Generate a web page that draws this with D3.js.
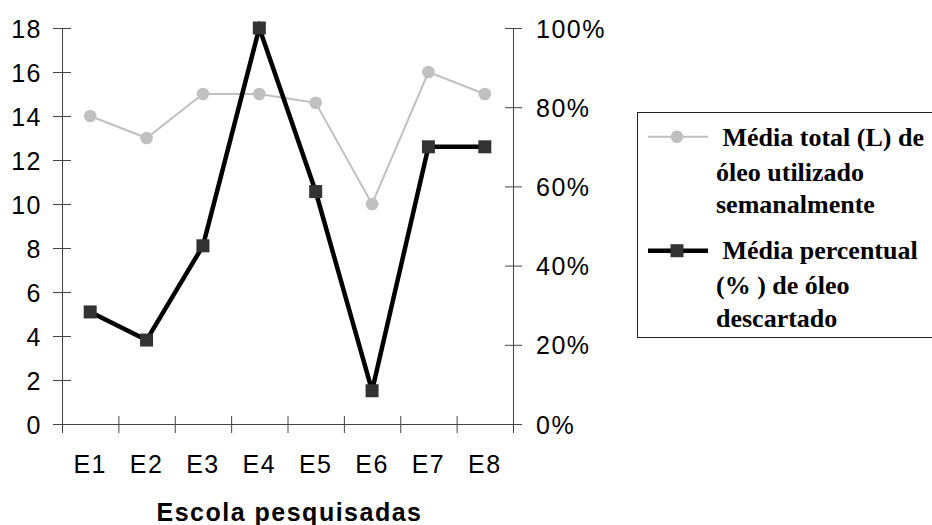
<!DOCTYPE html>
<html>
<head>
<meta charset="utf-8">
<script src="https://cdn.jsdelivr.net/npm/d3@7"></script>
<style>
  html, body { margin: 0; padding: 0; background: #fff; }
  svg { display: block; }
</style>
</head>
<body>
<svg id="chart" width="932" height="525"></svg>
<script>
const categories = ["E1", "E2", "E3", "E4", "E5", "E6", "E7", "E8"];
const volumeL = [14, 13, 15, 15, 14.6, 10, 16, 15];
const percentDiscarded = [28.3, 21.2, 45, 100, 58.7, 8.4, 70, 70];
const leftTicks = [0, 2, 4, 6, 8, 10, 12, 14, 16, 18];
const rightTicks = [0, 20, 40, 60, 80, 100];
const seriesNames = [
  ["\u00a0Média total (L) de", "óleo utilizado", "semanalmente"],
  ["Média percentual", "(% ) de óleo", "descartado"]
];
const xTitle = "Escola pesquisadas";

const svg = d3.select("#chart");
const pLeft = 62, pRight = 513, pTop = 28, pBottom = 424;
const axisColor = "#444";
const sans = "'Liberation Sans', Arial, sans-serif";
const serif = "'Liberation Serif', 'Times New Roman', serif";

const x = d3.scaleBand().domain(categories).range([pLeft, pRight]).padding(0);
const xb = d3.scaleLinear().domain([0, categories.length]).range([pLeft, pRight]);
const yL = d3.scaleLinear().domain([0, 18]).range([pBottom, pTop]);
const yR = d3.scaleLinear().domain([0, 100]).range([pBottom, pTop]);
const cx = d => x(d) + x.bandwidth() / 2;

// Left axis
const gL = svg.append("g").attr("transform", `translate(${pLeft},0)`)
  .call(d3.axisLeft(yL).tickValues(leftTicks).tickSize(9).tickPadding(11).tickFormat(d3.format("d")));
gL.selectAll(".tick line").attr("x1", -9).attr("x2", 9);
// Right axis
const gR = svg.append("g").attr("transform", `translate(${pRight},0)`)
  .call(d3.axisRight(yR).tickValues(rightTicks).tickSize(9).tickPadding(14).tickFormat(d => d + "%"));
gR.selectAll(".tick line").attr("x1", -8).attr("x2", 9);
// X axis ticks at band boundaries
const gX = svg.append("g").attr("transform", `translate(0,${pBottom})`)
  .call(d3.axisBottom(xb).tickValues(d3.range(categories.length + 1)).tickSize(9).tickFormat(""));
gX.selectAll(".tick line").attr("y1", -8).attr("y2", 9);
// X labels
const gXL = svg.append("g").attr("transform", `translate(0,${pBottom})`)
  .call(d3.axisBottom(x).tickSize(0).tickPadding(31));
gXL.select(".domain").remove();

[gL, gR, gX].forEach(g => {
  g.select(".domain").attr("stroke", axisColor).attr("stroke-width", 1);
  g.selectAll(".tick line").attr("stroke", axisColor).attr("stroke-width", 1);
});
[gL, gR, gXL].forEach(g => {
  g.selectAll("text").attr("font-family", sans).attr("font-size", 25).attr("fill", "#000")
    .attr("letter-spacing", "1.5px");
});
gL.selectAll(".tick text").attr("dy", "0.36em");
gR.selectAll(".tick text").attr("dy", "0.36em");

// Series 1: gray line with circles
const line1 = d3.line().x((d, i) => cx(categories[i])).y(d => yL(d));
svg.append("path").datum(volumeL).attr("d", line1)
  .attr("fill", "none").attr("stroke", "#c0c0c0").attr("stroke-width", 2);
svg.append("g").selectAll("circle").data(volumeL).join("circle")
  .attr("cx", (d, i) => cx(categories[i])).attr("cy", d => yL(d)).attr("r", 6.3)
  .attr("fill", "#c0c0c0");

// Series 2: black line with squares
const line2 = d3.line().x((d, i) => cx(categories[i])).y(d => yR(d));
svg.append("path").datum(percentDiscarded).attr("d", line2)
  .attr("fill", "none").attr("stroke", "#000").attr("stroke-width", 4.5).attr("stroke-linejoin", "miter");
const sq = 13;
svg.append("g").selectAll("rect").data(percentDiscarded).join("rect")
  .attr("x", (d, i) => cx(categories[i]) - sq / 2).attr("y", d => yR(d) - sq / 2)
  .attr("width", sq).attr("height", sq).attr("fill", "#333");

// X axis title
svg.append("text").attr("x", (pLeft + pRight) / 2 + 2).attr("y", 521)
  .attr("text-anchor", "middle").attr("font-family", sans).attr("font-weight", "bold")
  .attr("font-size", 25).attr("letter-spacing", "1.5px").text(xTitle);

// Legend
svg.append("rect").attr("x", 637.5).attr("y", 112.5).attr("width", 320).attr("height", 225)
  .attr("fill", "#fff").attr("stroke", "#222").attr("stroke-width", 1);
const legY = [136.7, 250.7];
const textBase = [[146, 181, 213], [259, 294, 327]];
svg.append("line").attr("x1", 648).attr("x2", 708).attr("y1", legY[0]).attr("y2", legY[0])
  .attr("stroke", "#c0c0c0").attr("stroke-width", 2);
svg.append("circle").attr("cx", 677).attr("cy", legY[0]).attr("r", 6.3).attr("fill", "#c0c0c0");
svg.append("line").attr("x1", 648).attr("x2", 708).attr("y1", legY[1]).attr("y2", legY[1])
  .attr("stroke", "#000").attr("stroke-width", 4.5);
svg.append("rect").attr("x", 677 - sq / 2).attr("y", legY[1] - sq / 2).attr("width", sq).attr("height", sq).attr("fill", "#333");

seriesNames.forEach((lines, si) => {
  lines.forEach((t, li) => {
    svg.append("text").attr("x", li === 0 ? (si === 0 ? 716 : 722.5) : 716).attr("y", textBase[si][li])
      .attr("font-family", serif).attr("font-weight", "bold").attr("font-size", 26)
      .attr("fill", "#000").text(t);
  });
});
</script>
</body>
</html>
